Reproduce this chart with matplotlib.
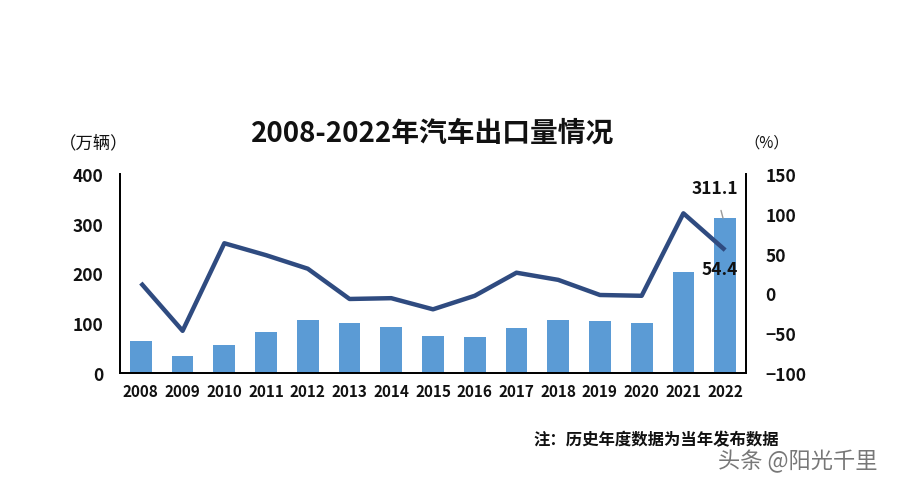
import matplotlib
matplotlib.use("Agg")
import matplotlib.pyplot as plt

plt.rcParams['font.family'] = ['Noto Sans CJK SC', 'DejaVu Sans']

years = ['2008', '2009', '2010', '2011', '2012', '2013', '2014', '2015',
         '2016', '2017', '2018', '2019', '2020', '2021', '2022']
exports = [64, 34, 57, 83, 107, 100, 92, 75, 73, 90, 106, 104, 100, 203, 311.1]
growth = [13, -47, 63, 48, 31, -7, -6, -20, -3, 26, 17, -2, -3, 100.6, 54.4]
left_ticks = [0, 100, 200, 300, 400]
right_ticks = [-100, -50, 0, 50, 100, 150]

W, H = 898, 489
fig = plt.figure(figsize=(W / 100, H / 100), dpi=100)
ax = fig.add_axes([120 / W, 1 - 374 / H, (746 - 120) / W, (374 - 175) / H])
ax2 = ax.twinx()

x = list(range(len(years)))
ax.bar(x, exports, width=0.52, color='#5B9BD5', zorder=2)
ax2.plot(x, growth, color='#2F4B80', lw=3.2, solid_capstyle='butt', zorder=3)

ax.set_xlim(-0.5, len(years) - 0.5)
ax.set_ylim(0, 400)
ax2.set_ylim(-100, 150)
ax.set_yticks(left_ticks)
ax2.set_yticks(right_ticks)
ax.set_xticks(x)
ax.set_xticklabels(years)

for a in (ax, ax2):
    a.spines['top'].set_visible(False)
    for s in ('left', 'right', 'bottom'):
        a.spines[s].set_color('black')
        a.spines[s].set_linewidth(1.3)
    a.tick_params(length=0)
ax.set_zorder(ax2.get_zorder() - 1)
ax.patch.set_visible(False)
ax2.set_zorder(1)

ax.tick_params(axis='y', labelsize=12.5, pad=12)
ax.tick_params(axis='x', labelsize=11, pad=7)
ax2.tick_params(axis='y', labelsize=12.5, pad=14)
for lab in ax.get_yticklabels() + ax.get_xticklabels() + ax2.get_yticklabels():
    lab.set_fontweight('bold')
    lab.set_color('#111111')

fig.text(433 / W, 1 - 134 / H, '2008-2022年汽车出口量情况', ha='center', va='center',
         fontsize=20, fontweight='bold', color='#111111')
fig.text(94 / W, 1 - 143 / H, '（万辆）', ha='center', va='center', fontsize=12.5, color='#111111')
fig.text(767 / W, 1 - 143 / H, '（%）', ha='center', va='center', fontsize=11, color='#111111')

ax.annotate('311.1', xy=(13.95, exports[14]), xytext=(13.76, 372),
            ha='center', va='center', fontsize=12.5, fontweight='bold', color='#111111',
            arrowprops=dict(arrowstyle='-', color='#999999', lw=1, shrinkA=8, shrinkB=0))
ax2.text(13.88, 31, '54.4', ha='center', va='center', fontsize=12.5,
         fontweight='bold', color='#111111')

fig.text(533 / W, 1 - 440 / H, '注：历史年度数据为当年发布数据', ha='left', va='center',
         fontsize=11.8, fontweight='bold', color='#111111')
fig.text(718 / W, 1 - 462 / H, '头条 @阳光千里', ha='left', va='center',
         fontsize=16, color='#777777')

fig.savefig('out.png', dpi=100)
